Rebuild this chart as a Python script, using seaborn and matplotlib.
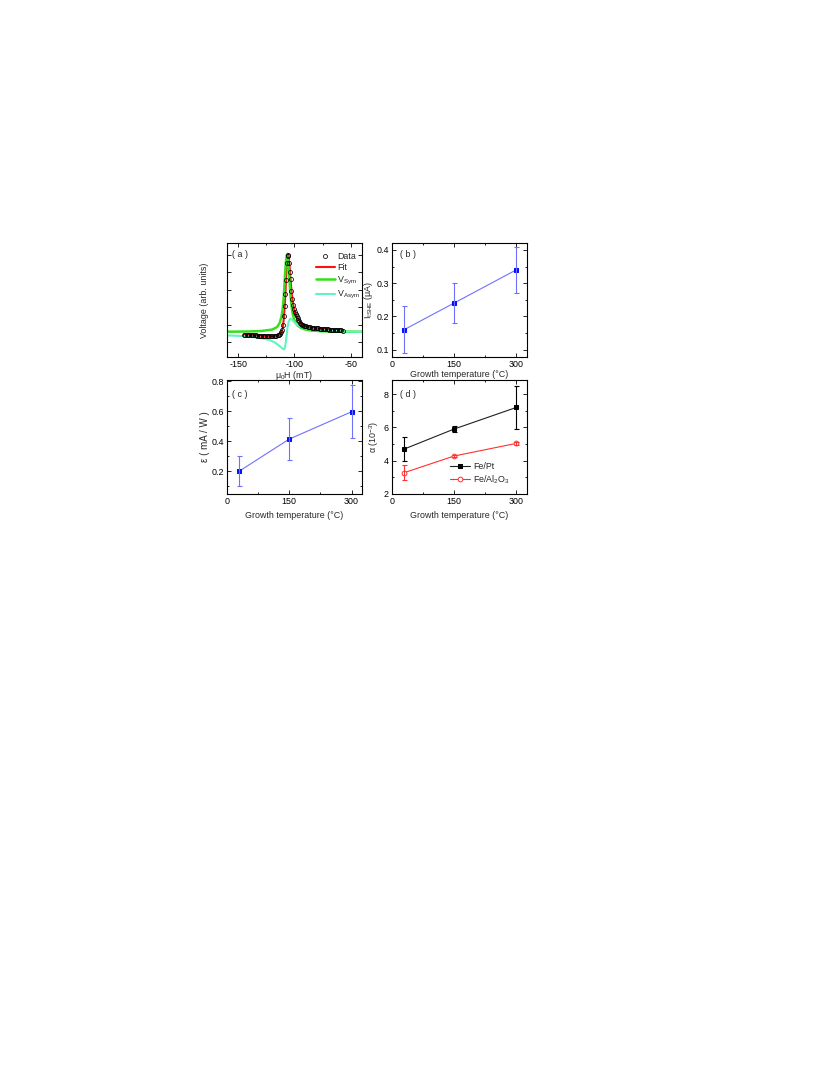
import numpy as np
import seaborn as sns
import matplotlib
matplotlib.use('Agg')
import matplotlib.pyplot as plt
from matplotlib.ticker import MultipleLocator, NullFormatter
from matplotlib.lines import Line2D

# 1. data
# (a) FMR / ISHE voltage spectrum, arbitrary units
data_h = [-145.0, -143.8, -142.6, -141.4, -140.2, -139.0, -137.8, -136.6, -135.4, -134.2,
          -133.0, -131.8, -130.6, -129.4, -128.2, -127.0, -125.8, -124.6, -123.4, -122.2,
          -121.0, -119.8, -118.6, -117.4, -116.2, -115.0, -113.8, -112.7, -111.7, -110.8,
          -110.0, -109.3, -108.7, -108.1, -107.5, -106.8, -106.1, -105.4, -104.7, -104.0,
          -103.4, -102.7, -102.0, -101.2, -100.4, -99.6, -98.8, -98.0, -97.2, -96.4,
          -95.6, -94.8, -94.0, -93.2, -92.3, -91.4, -90.4, -89.4, -88.2, -87.0,
          -85.8, -84.6, -83.4, -82.2, -81.0, -79.8, -78.6, -77.4, -76.2, -75.0,
          -73.8, -72.6, -71.4, -70.2, -69.0, -67.8, -66.6, -65.4, -64.2, -63.0,
          -61.8, -60.6, -59.4, -58.2, -57.0]
data_v = [-0.035, -0.037, -0.038, -0.039, -0.040, -0.041, -0.042, -0.043, -0.044, -0.045,
          -0.046, -0.047, -0.048, -0.049, -0.050, -0.051, -0.052, -0.053, -0.054, -0.055,
          -0.056, -0.056, -0.055, -0.053, -0.050, -0.045, -0.037, -0.025, -0.005, 0.03,
          0.09, 0.20, 0.33, 0.48, 0.67, 0.88, 0.99, 0.97, 0.88, 0.77,
          0.68, 0.52, 0.42, 0.35, 0.30, 0.26, 0.23, 0.20, 0.175, 0.155,
          0.135, 0.12, 0.107, 0.095, 0.087, 0.08, 0.074, 0.07, 0.065, 0.062,
          0.058, 0.055, 0.052, 0.050, 0.048, 0.046, 0.044, 0.042, 0.040, 0.039,
          0.037, 0.036, 0.034, 0.033, 0.031, 0.030, 0.028, 0.027, 0.026, 0.025,
          0.023, 0.022, 0.021, 0.020, 0.018]

fit_h = [-145, -135, -125, -120, -116, -113, -111.5, -110.5, -109.6, -108.8,
         -108.0, -107.2, -106.4, -105.8, -105.0, -104.2, -103.4, -102.6, -101.8, -100.8,
         -99.5, -98, -96, -94, -91, -88, -84, -78, -70, -63, -57]
fit_v = [-0.035, -0.044, -0.052, -0.056, -0.051, -0.033, -0.008, 0.05, 0.15, 0.30,
         0.50, 0.75, 0.95, 1.0, 0.95, 0.82, 0.66, 0.52, 0.41, 0.32,
         0.25, 0.20, 0.15, 0.107, 0.08, 0.065, 0.054, 0.042, 0.032, 0.024, 0.018]

sym_h = [-160, -150, -140, -130, -125, -120, -117, -115, -113, -111.5,
         -110.5, -109.5, -108.5, -107.6, -106.7, -105.8, -104.8, -103.8, -102.8, -101.8,
         -100.5, -99, -97, -94, -90, -85, -75, -60, -40]
sym_v = [0.003, 0.004, 0.006, 0.012, 0.02, 0.03, 0.05, 0.07, 0.12, 0.20,
         0.29, 0.45, 0.70, 0.90, 0.99, 0.92, 0.75, 0.52, 0.36, 0.25,
         0.17, 0.12, 0.08, 0.05, 0.03, 0.018, 0.008, 0.004, 0.002]

asym_h = [-160, -150, -140, -132, -126, -122, -118, -115, -112.5, -110.5,
          -109.2, -108.4, -107.6, -106.8, -106.0, -105.0, -103.6, -102.2, -100.5, -98.5,
          -96, -93, -88, -80, -70, -60, -50, -40]
asym_v = [-0.045, -0.05, -0.06, -0.075, -0.09, -0.105, -0.13, -0.16, -0.19, -0.215,
          -0.225, -0.20, -0.12, -0.02, 0.07, 0.14, 0.17, 0.16, 0.13, 0.10,
          0.08, 0.06, 0.04, 0.025, 0.017, 0.008, 0.003, 0.0]

# (b)-(d) versus growth temperature
growth_t = [30, 150, 300]
i_ishe = [0.16, 0.24, 0.34]
i_ishe_err = [0.07, 0.06, 0.07]
eps = [0.20, 0.413, 0.595]
eps_err = [0.10, 0.14, 0.177]
alpha_fept = [4.7, 5.9, 7.2]
alpha_fept_err = [0.7, 0.2, 1.3]
alpha_feal = [3.28, 4.28, 5.04]
alpha_feal_err = [0.45, 0.05, 0.1]

# 2. style
sns.set_style('ticks')
plt.rcParams['font.family'] = ['Liberation Sans', 'DejaVu Sans']
plt.rcParams['mathtext.fontset'] = 'custom'
plt.rcParams['mathtext.rm'] = 'Liberation Sans'
plt.rcParams['mathtext.it'] = 'Liberation Sans:italic'
plt.rcParams['mathtext.bf'] = 'Liberation Sans:bold'
plt.rcParams['axes.linewidth'] = 0.8
plt.rcParams['axes.edgecolor'] = 'black'
plt.rcParams['axes.unicode_minus'] = False

fs = 6.4

fig = plt.figure(figsize=(8.3, 10.75), dpi=100)
ax_a = fig.add_axes([0.2735, 0.668, 0.1625, 0.106])
ax_b = fig.add_axes([0.472, 0.668, 0.1625, 0.106])
ax_c = fig.add_axes([0.2735, 0.5405, 0.1625, 0.106])
ax_d = fig.add_axes([0.472, 0.5405, 0.1625, 0.106])


def style_ticks(ax):
    ax.tick_params(which='both', direction='in', top=True, right=True,
                   labelsize=fs, pad=2, width=0.6, colors='black')
    ax.tick_params(which='major', length=3)
    ax.tick_params(which='minor', length=1.6)


# 3. panel (a)
blue_line = '#7070ff'
sns.lineplot(x=fit_h, y=fit_v, ax=ax_a, color='#ff1010', linewidth=1.5)
sns.lineplot(x=sym_h, y=sym_v, ax=ax_a, color='#33e01a', linewidth=1.8)
sns.lineplot(x=asym_h, y=asym_v, ax=ax_a, color='#60f5c0', linewidth=1.5)
sns.lineplot(x=data_h, y=data_v, ax=ax_a, marker='o', linestyle='', markersize=2.9,
             markerfacecolor='none', markeredgecolor='black', markeredgewidth=0.55)
ax_a.set_xlim(-160, -40)
ax_a.set_ylim(-0.32, 1.14)
ax_a.xaxis.set_major_locator(MultipleLocator(50))
ax_a.xaxis.set_minor_locator(MultipleLocator(25))
ax_a.set_yticks(np.arange(-0.135, 1.1, 0.225))
ax_a.yaxis.set_major_formatter(NullFormatter())
style_ticks(ax_a)
ax_a.set_xlabel('μ$_0$H (mT)', fontsize=fs, labelpad=0.5)
ax_a.set_ylabel('Voltage (arb. units)', fontsize=fs, labelpad=11)
ax_a.text(0.035, 0.895, '( a )', transform=ax_a.transAxes, fontsize=fs, va='center')
handles = [Line2D([], [], marker='o', linestyle='', markersize=2.9, markerfacecolor='none',
                  markeredgecolor='black', markeredgewidth=0.55),
           Line2D([], [], color='#ff1010', linewidth=1.5),
           Line2D([], [], color='#33e01a', linewidth=1.8),
           Line2D([], [], color='#60f5c0', linewidth=1.5)]
ax_a.legend(handles, ['Data', 'Fit', r'V$_{\rm Sym}$', r'V$_{\rm Asym}$'],
            loc='center left', bbox_to_anchor=(0.66, 0.705), frameon=False,
            fontsize=6.4, handlelength=2.1, handletextpad=0.3, labelspacing=0.28,
            borderpad=0, borderaxespad=0)

# 4. panel (b)
sns.lineplot(x=growth_t, y=i_ishe, ax=ax_b, color=blue_line, linewidth=0.8, marker='s',
             markersize=3.2, markerfacecolor='#0010ff', markeredgecolor='#0010ff')
ax_b.errorbar(growth_t, i_ishe, yerr=i_ishe_err, fmt='none', ecolor=blue_line,
              elinewidth=0.8, capsize=1.8, capthick=0.8)
ax_b.set_xlim(0, 325)
ax_b.set_ylim(0.078, 0.421)
ax_b.set_xticks([0, 150, 300])
ax_b.xaxis.set_minor_locator(MultipleLocator(75))
ax_b.yaxis.set_major_locator(MultipleLocator(0.1))
ax_b.yaxis.set_minor_locator(MultipleLocator(0.05))
style_ticks(ax_b)
ax_b.set_xlabel('Growth temperature (°C)', fontsize=fs, labelpad=0.8)
ax_b.set_ylabel('I$_{\\rm ISHE}$ (μA)', fontsize=fs, labelpad=1)
ax_b.text(0.06, 0.895, '( b )', transform=ax_b.transAxes, fontsize=fs, va='center')

# 5. panel (c)
sns.lineplot(x=growth_t, y=eps, ax=ax_c, color=blue_line, linewidth=0.8, marker='s',
             markersize=3.2, markerfacecolor='#0010ff', markeredgecolor='#0010ff')
ax_c.errorbar(growth_t, eps, yerr=eps_err, fmt='none', ecolor=blue_line,
              elinewidth=0.8, capsize=1.8, capthick=0.8)
ax_c.set_xlim(0, 325)
ax_c.set_ylim(0.047, 0.807)
ax_c.set_xticks([0, 150, 300])
ax_c.xaxis.set_minor_locator(MultipleLocator(75))
ax_c.yaxis.set_minor_locator(MultipleLocator(0.1))
ax_c.set_yticks([0.2, 0.4, 0.6, 0.8])
style_ticks(ax_c)
ax_c.set_xlabel('Growth temperature (°C)', fontsize=fs, labelpad=3.5)
ax_c.set_ylabel('ε ( mA / W )', fontsize=7.0, labelpad=1.5)
ax_c.text(0.035, 0.87, '( c )', transform=ax_c.transAxes, fontsize=fs, va='center')

# 6. panel (d)
sns.lineplot(x=growth_t, y=alpha_fept, ax=ax_d, color='#202020', linewidth=0.8, marker='s',
             markersize=3.2, markerfacecolor='black', markeredgecolor='black', label='Fe/Pt')
ax_d.errorbar(growth_t, alpha_fept, yerr=alpha_fept_err, fmt='none', ecolor='black',
              elinewidth=0.8, capsize=1.8, capthick=0.8)
sns.lineplot(x=growth_t, y=alpha_feal, ax=ax_d, color='#ff3030', linewidth=0.8, marker='o',
             markersize=3.4, markerfacecolor='white', markeredgecolor='#ff3030',
             markeredgewidth=0.7, label=r'Fe/Al$_2$O$_3$')
ax_d.errorbar(growth_t, alpha_feal, yerr=alpha_feal_err, fmt='none', ecolor='#ff3030',
              elinewidth=0.8, capsize=1.8, capthick=0.8)
ax_d.set_xlim(0, 325)
ax_d.set_ylim(2, 8.85)
ax_d.set_xticks([0, 150, 300])
ax_d.xaxis.set_minor_locator(MultipleLocator(75))
ax_d.yaxis.set_major_locator(MultipleLocator(2))
ax_d.yaxis.set_minor_locator(MultipleLocator(1))
style_ticks(ax_d)
ax_d.set_xlabel('Growth temperature (°C)', fontsize=fs, labelpad=3.5)
ax_d.set_ylabel('α (10$^{-3}$)', fontsize=fs, labelpad=2.5)
ax_d.text(0.06, 0.87, '( d )', transform=ax_d.transAxes, fontsize=fs, va='center')
ax_d.legend(loc='center left', bbox_to_anchor=(0.43, 0.175), frameon=False, fontsize=fs,
            handlelength=2.3, handletextpad=0.3, labelspacing=0.3, borderpad=0,
            borderaxespad=0)

fig.savefig('out.png', dpi=100, facecolor='white')
